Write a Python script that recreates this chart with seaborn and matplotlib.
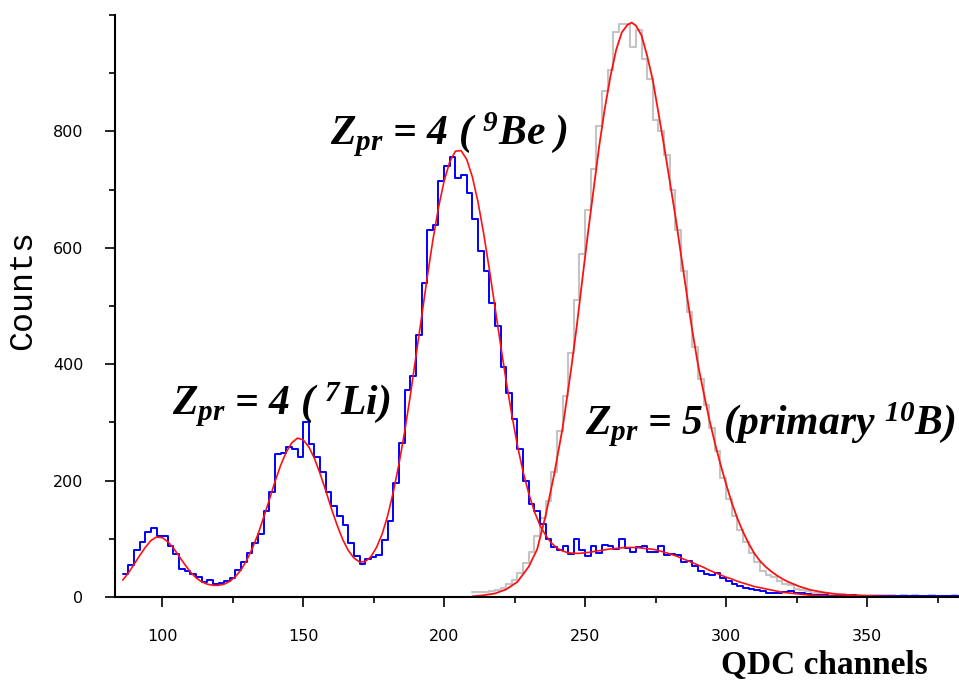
import numpy as np
import pandas as pd
import matplotlib
matplotlib.use("Agg")
import matplotlib.pyplot as plt
from matplotlib.ticker import MultipleLocator
import seaborn as sns

# --- data (QDC channel vs counts) ---
# blue spectrum: 2-channel bins starting at channel 86
blue_start = 86
bin_w = 2
blue_counts = [39, 55, 80, 95, 112, 118, 104, 105, 88, 74,
               48, 44, 40, 34, 26, 30, 23, 24, 27, 33,
               46, 60, 76, 92, 108, 148, 180, 245, 248, 257,
               254, 240, 300, 262, 240, 215, 180, 156, 140, 124,
               92, 70, 56, 66, 68, 72, 98, 130, 195, 265,
               355, 380, 450, 540, 630, 640, 715, 740, 756, 720,
               725, 695, 650, 595, 560, 505, 465, 395, 350, 305,
               255, 200, 160, 148, 125, 100, 86, 80, 88, 74,
               100, 80, 70, 88, 76, 90, 88, 82, 100, 85,
               77, 86, 88, 78, 78, 88, 72, 74, 72, 60,
               62, 54, 44, 40, 38, 42, 33, 27, 22, 19,
               15, 13, 12, 10, 7, 7, 6, 9, 10, 7,
               6, 5, 4, 4, 3,
               2, 2, 1, 2, 3, 1, 2, 1, 2, 2, 1, 2, 1, 2, 2, 1, 2, 1, 2, 1, 2, 2, 1, 1]

# grey spectrum (primary 10B), 2-channel bins starting at channel 210
gray_start = 210
gray_counts = [8, 8, 9, 10, 12, 16, 22, 30, 42, 58,
               78, 105, 135, 165, 215, 285, 345, 420, 510, 590,
               665, 735, 810, 870, 905, 970, 985, 985, 945, 975,
               925, 890, 820, 800, 760, 700, 630, 560, 490, 430,
               375, 330, 290, 250, 205, 168, 140, 115, 95, 75,
               60, 45, 38, 34, 27, 22, 20, 13, 12, 10,
               7, 7, 6,
               4, 4, 5, 4, 4, 3, 4, 4, 3, 3, 4, 3, 2, 3, 2, 3, 2, 2, 3, 2, 2, 2, 3, 2]

# red fit through the blue spectrum, every 2 channels from 86
fit_blue_start = 86
fit_blue = [29, 41, 56, 71, 85, 97, 103, 102, 95, 84,
            70, 56, 43, 33, 26, 22, 20, 20, 22, 27,
            35, 47, 63, 84, 108, 137, 167, 198, 226, 249,
            265, 273, 270, 258, 238, 212, 183, 152, 124, 99,
            80, 67, 60, 61, 69, 85, 108, 140,
            181, 229, 284, 346, 413, 481, 549, 613, 669, 715,
            748, 766, 767, 752, 722, 679, 625, 564, 499, 434,
            371, 313, 260, 215, 178, 147, 123, 106, 93, 84,
            79, 76, 75, 75, 76, 77, 79, 80, 82, 83,
            84, 85, 85, 85, 84, 83, 82, 80, 77, 74,
            71, 67, 63, 59, 55, 51, 46, 42, 38, 34,
            31, 27, 24, 21, 18, 16, 14, 12, 10, 8,
            7, 6, 5, 4, 3, 2.5, 2, 1.6, 1.3, 1,
            0.8, 0.6, 0.5]

# red fit through the grey spectrum
fit_gray_ch = [210, 214, 218, 222, 226, 230, 233, 236, 239, 242, 245, 247, 249, 251,
               253, 255, 257, 259, 261, 263, 265, 266.5, 268, 270, 272, 274, 276, 278,
               280, 282, 284, 286, 288, 290, 292, 294, 296, 298, 300, 302, 304, 306,
               308, 310, 312, 314, 316, 318, 320, 322, 324, 326, 330, 335, 340, 345,
               350, 355, 360]
fit_gray = [1, 3, 6, 13, 26, 52, 82, 140, 210, 290, 390, 464, 545, 625,
            700, 775, 840, 895, 940, 970, 983, 987, 982, 965, 930, 888, 832, 775,
            715, 655, 588, 522, 458, 400, 352, 306, 265, 228, 194, 162, 135, 112,
            92, 75, 62, 52, 44, 37, 31, 26, 22, 18, 12, 7.5, 4.5, 3,
            1.8, 1, 0.5]

blue_edges = [blue_start + bin_w * i for i in range(len(blue_counts) + 1)]
gray_edges = [gray_start + bin_w * i for i in range(len(gray_counts) + 1)]
df_blue = pd.DataFrame({"ch": np.array(blue_edges[:-1]) + bin_w / 2, "n": blue_counts})
df_gray = pd.DataFrame({"ch": np.array(gray_edges[:-1]) + bin_w / 2, "n": gray_counts})
df_fit_blue = pd.DataFrame({"ch": fit_blue_start + bin_w * np.arange(len(fit_blue)), "n": fit_blue})
df_fit_gray = pd.DataFrame({"ch": fit_gray_ch, "n": fit_gray})

sns.set_style("ticks", {"axes.edgecolor": "black", "xtick.color": "black",
                        "ytick.color": "black", "text.color": "black",
                        "axes.labelcolor": "black"})
plt.rcParams["mathtext.fontset"] = "custom"
plt.rcParams["mathtext.it"] = "Liberation Serif:italic:bold"
plt.rcParams["mathtext.rm"] = "Liberation Serif:italic:bold"
plt.rcParams["mathtext.bf"] = "Liberation Serif:italic:bold"

fig = plt.figure(figsize=(9.59, 6.85), dpi=100)
ax = fig.add_axes([0.12, 0.1285, 0.88, 0.8496])

sns.histplot(data=df_gray, x="ch", weights="n", bins=gray_edges,
             element="step", fill=False, color="#c4c4c4", linewidth=1.5, ax=ax)
sns.histplot(data=df_blue, x="ch", weights="n", bins=blue_edges,
             element="step", fill=False, color="#0000ff", linewidth=1.4, ax=ax)
sns.lineplot(data=df_fit_blue, x="ch", y="n", color="#ff1010", linewidth=1.2,
             estimator=None, sort=False, ax=ax)
sns.lineplot(data=df_fit_gray, x="ch", y="n", color="#ff1010", linewidth=1.3,
             estimator=None, sort=False, ax=ax)

ax.set_xlim(83.3, 382.6)
ax.set_ylim(0, 1000)
sns.despine(ax=ax)
ax.spines["left"].set_linewidth(1.5)
ax.spines["bottom"].set_linewidth(1.5)

ax.set_xticks([100, 150, 200, 250, 300, 350])
ax.set_yticks([0, 200, 400, 600, 800])
ax.xaxis.set_minor_locator(MultipleLocator(25))
ax.yaxis.set_minor_locator(MultipleLocator(100))
ax.tick_params(which="major", length=7, width=1.2, pad=16, labelsize=11.5,
               labelcolor="black")
ax.tick_params(which="minor", length=4, width=1.2)

ax.set_ylabel("Counts", fontfamily="Liberation Mono", fontsize=24, color="black")
ax.yaxis.label.set_va("center")
ax.yaxis.set_label_coords(-0.110, 0.527)
ax.set_xlabel("QDC channels", fontfamily="Liberation Serif", fontweight="bold",
              fontsize=24, color="black")
ax.xaxis.label.set_va("center")
ax.xaxis.set_label_coords(0.841, -0.117)

txt = dict(fontfamily="Liberation Serif", fontstyle="italic", fontweight="bold",
           fontsize=30, ha="left", va="baseline", color="black")
ax.text(159.6, 776, r"$Z_{pr}$ = 4 ( $^{9}$Be )", **txt)
ax.text(103.5, 312, r"$Z_{pr}$ = 4 ( $^{7}$Li)", **txt)
ax.text(250, 278, r"$Z_{pr}$ = 5  (primary $^{10}$B)", **txt)

fig.savefig("out.png", dpi=100)
